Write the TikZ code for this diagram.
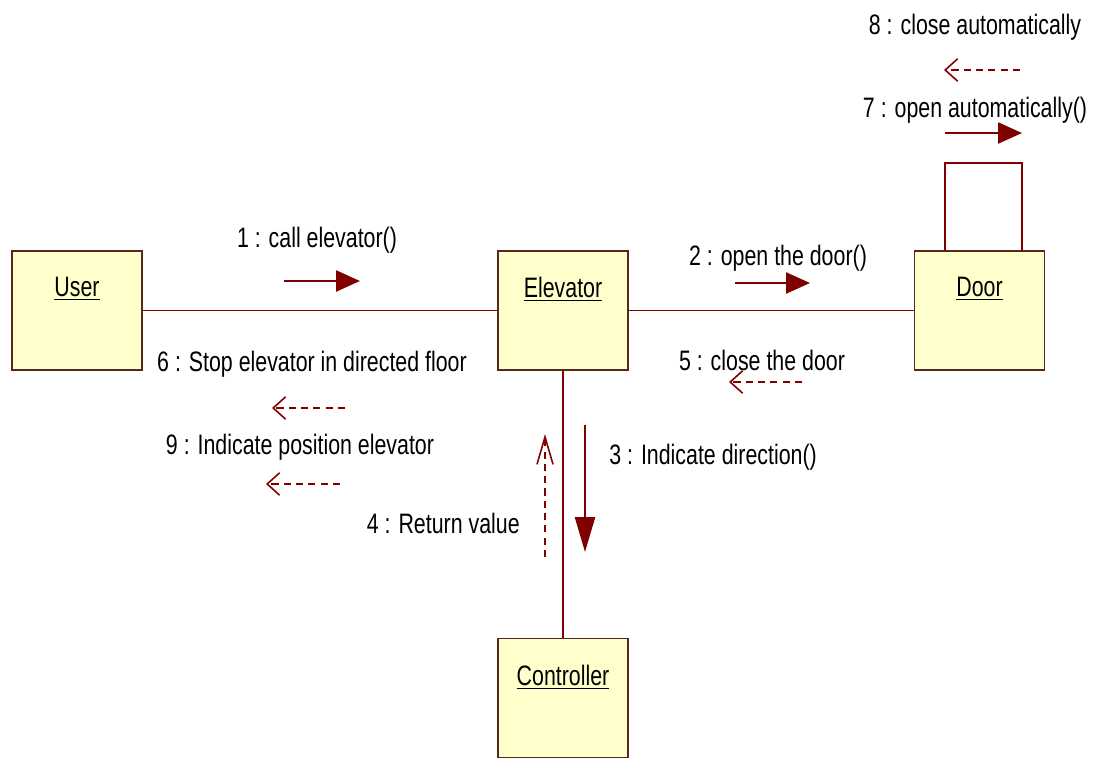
\documentclass[tikz,border=0pt]{standalone}
\usepackage{fontspec}
\setmainfont[FakeStretch=0.76]{Liberation Sans}
\usetikzlibrary{arrows.meta,positioning}
\definecolor{boxfill}{RGB}{255,255,204}
\definecolor{boxline}{RGB}{85,40,30}
\definecolor{linkred}{RGB}{128,0,0}
\tikzset{
    object/.style={
        draw=boxline, fill=boxfill, rectangle, line width=1pt,
        minimum width=2.6cm, minimum height=2.38cm, inner sep=0pt
    }
}

\begin{document}
\begin{tikzpicture}[
        x=0.02cm, y=-0.02cm,
        font=\fontsize{16}{18}\selectfont,
        objname/.style={below=0.42cm},
        assoc/.style={draw=linkred, line width=1pt},
        call/.style={draw=linkred, line width=1.4pt,
            -{Triangle[length=0.48cm,width=0.42cm]}},
        reply/.style={draw=linkred, line width=0.9pt, dash pattern=on 4pt off 3pt,
            -{Straight Barb[length=0.25cm,width=0.45cm]}},
        msg/.style={inner sep=0pt}
      ]
    \useasboundingbox (0,0) rectangle (1097,758);

    \node[object,label={[objname]north:\underline{User}}]       (user)       at (77,310.5)  {};
    \node[object,label={[objname]north:\underline{Elevator}}]   (elevator)   at (563,310.5) {};
    \node[object,label={[objname]north:\underline{Door}}]       (door)       at (979.5,310.5) {};
    \node[object,label={[objname]north:\underline{Controller}}] (controller) at (563,698)   {};

    \draw[assoc] (user) -- (elevator);
    \draw[assoc] (elevator) -- (door);
    \draw[assoc] (elevator) -- (controller);
    \coordinate (loopL) at (945,251);
    \coordinate (loopR) at (1022,251);
    \draw[assoc] (loopL) -- ++(0,-88) -| (loopR);

    % messages
    \node[msg] (m1) at (317,240) {1 : call elevator()};
    \coordinate (m1a) at (284,281);
    \coordinate (m1b) at (360,281);
    \draw[call] (m1a) -- (m1b);

    \node[msg] (m2) at (778,258) {2 : open the door()};
    \coordinate (m2a) at (735,283);
    \coordinate (m2b) at (810,283);
    \draw[call] (m2a) -- (m2b);

    \node[msg,anchor=west] (m3) at (609,457) {3 : Indicate direction()};
    \coordinate (m3a) at (585,425);
    \coordinate (m3b) at (585,552);
    \draw[call,-{Triangle[length=0.7cm,width=0.4cm]}] (m3a) -- (m3b);

    \node[msg,anchor=east] (m4) at (520,523) {4 : Return value};
    \coordinate (m4a) at (545,557);
    \coordinate (m4b) at (545,434);
    \draw[reply,-{Straight Barb[length=0.55cm,width=0.32cm]}] (m4a) -- (m4b);

    \node[msg] (m5) at (762,360) {5 : close the door};
    \coordinate (m5a) at (802,382);
    \coordinate (m5b) at (729,382);
    \draw[reply] (m5a) -- (m5b);

    \node[msg] (m6) at (312,364) {6 : Stop elevator in directed floor};
    \coordinate (m6a) at (345,408);
    \coordinate (m6b) at (272,408);
    \draw[reply] (m6a) -- (m6b);

    \node[msg] (m9) at (300,447) {9 : Indicate position elevator};
    \coordinate (m9a) at (340,484);
    \coordinate (m9b) at (266,484);
    \draw[reply] (m9a) -- (m9b);

    \node[msg] (m8) at (975,27) {8 : close automatically};
    \coordinate (m8a) at (1020,70);
    \coordinate (m8b) at (944,70);
    \draw[reply] (m8a) -- (m8b);

    \node[msg] (m7) at (975,110) {7 : open automatically()};
    \coordinate (m7a) at (945,133);
    \coordinate (m7b) at (1022,133);
    \draw[call] (m7a) -- (m7b);

\end{tikzpicture}
\end{document}
